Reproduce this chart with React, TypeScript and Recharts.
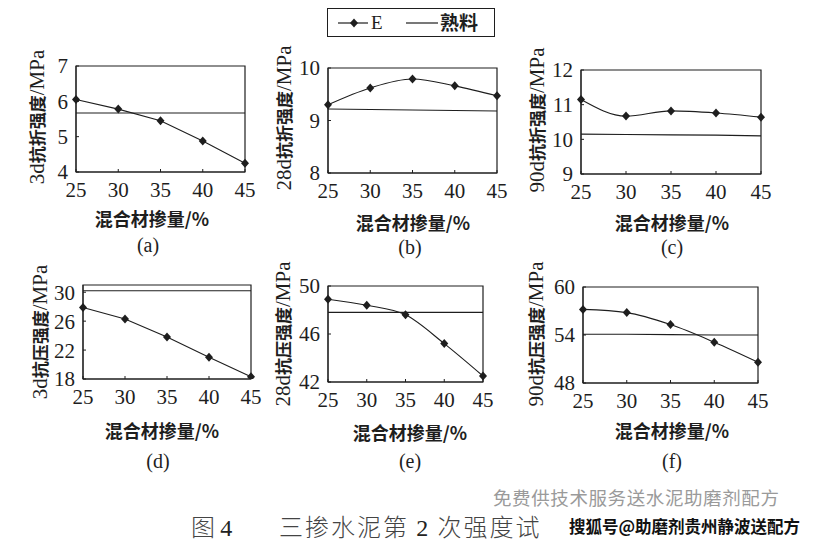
import { LineChart, Line, XAxis, YAxis, ReferenceArea } from 'recharts'

const X_VALUES = [25, 30, 35, 40, 45]

// E series and clinker baseline per panel (MPa)
const A_E = [6.05, 5.78, 5.45, 4.88, 4.25]
const A_CLINKER = [5.67, 5.67, 5.67, 5.67, 5.67]
const B_E = [9.3, 9.62, 9.79, 9.66, 9.47]
const B_CLINKER = [9.22, 9.21, 9.2, 9.19, 9.18]
const C_E = [11.15, 10.67, 10.82, 10.76, 10.64]
const C_CLINKER = [10.15, 10.14, 10.13, 10.12, 10.1]
const D_E = [27.9, 26.3, 23.8, 21.0, 18.3]
const D_CLINKER = [30.2, 30.2, 30.2, 30.2, 30.2]
const E_E = [48.9, 48.4, 47.6, 45.2, 42.5]
const E_CLINKER = [47.8, 47.8, 47.8, 47.8, 47.8]
const F_E = [57.2, 56.8, 55.3, 53.1, 50.6]
const F_CLINKER = [54.1, 54.1, 54.05, 54.0, 54.0]

const A_TICKS = [4, 5, 6, 7]
const B_TICKS = [8, 9, 10]
const C_TICKS = [9, 10, 11, 12]
const D_TICKS = [18, 22, 26, 30]
const E_TICKS = [42, 46, 50]
const F_TICKS = [48, 54, 60]

const X_TITLE = '混合材掺量/%'
const INK = '#1e1e1e'
const SERIF = "'Liberation Serif', 'Noto Sans CJK SC', serif"
const CJK = "'Noto Sans CJK SC', sans-serif"

const rows = (e: number[], c: number[]) =>
  X_VALUES.map((x, i) => ({ x, e: e[i], clinker: c[i] }))

const Diamond = (p: any) => {
  const { cx, cy } = p
  if (cx == null || cy == null) return null
  return <path key={p.key ?? `${cx}-${cy}`} d={`M${cx},${cy - 4.5}L${cx + 4},${cy}L${cx},${cy + 4.5}L${cx - 4},${cy}Z`} fill={INK} />
}

interface PanelProps {
  box: { x: number; y: number; w: number; h: number }
  domain: [number, number]
  ticks: number[]
  e: number[]
  clinker: number[]
  curve: 'linear' | 'monotone'
}

function Panel({ box, domain, ticks, e, clinker, curve }: PanelProps) {
  const padL = 60, padT = 12, padR = 12, axisH = 40
  return (
    <div style={{ position: 'absolute', left: box.x - padL, top: box.y - padT }}>
      <LineChart width={box.w + padL + padR} height={box.h + padT + axisH} data={rows(e, clinker)}
        margin={{ top: padT, right: padR, left: 0, bottom: 0 }}>
        <XAxis dataKey="x" type="number" domain={[25, 45]} ticks={X_VALUES} height={axisH}
          axisLine={{ stroke: INK }} tickLine={{ stroke: INK }} tickSize={-3} tickMargin={13}
          tick={{ fontSize: 21, fill: INK, fontFamily: SERIF }} interval={0} />
        <YAxis type="number" domain={domain} ticks={ticks} width={padL} allowDataOverflow
          axisLine={{ stroke: INK }} tickLine={{ stroke: INK }} tickSize={-3} tickMargin={11}
          tick={{ fontSize: 21, fill: INK, fontFamily: SERIF }} interval={0} />
        <ReferenceArea x1={25} x2={45} y1={domain[0]} y2={domain[1]} fill="none"
          stroke={INK} strokeWidth={1.2} ifOverflow="visible" />
        <Line dataKey="clinker" type="linear" stroke={INK} strokeWidth={1.1} dot={false}
          isAnimationActive={false} />
        <Line dataKey="e" type={curve} stroke={INK} strokeWidth={1.1} dot={<Diamond />}
          activeDot={false} isAnimationActive={false} />
      </LineChart>
    </div>
  )
}

const Txt = ({ x, y, children, size = 18, rotate = false, family = CJK, weight = 400, color = INK }: any) => (
  <div style={{
    position: 'absolute', left: x, top: y, whiteSpace: 'nowrap', fontSize: size, fontFamily: family,
    fontWeight: weight, color, lineHeight: 1,
    transform: `translate(-50%, -50%)${rotate ? ' rotate(-90deg)' : ''}`,
  }}>{children}</div>
)

// y titles split so the Latin parts can be set larger than the Chinese, as in the print
const YTitle = ({ t }: { t: [string, string, string] }) => (
  <>
    <span style={{ fontFamily: SERIF, fontSize: 21 }}>{t[0]}</span>
    <span style={{ fontFamily: CJK, fontSize: 17, fontWeight: 700 }}>{t[1]}</span>
    <span style={{ fontFamily: SERIF, fontSize: 21 }}>{t[2]}</span>
  </>
)

const PANELS = [
  { key: 'a', box: { x: 76, y: 66, w: 169, h: 106 }, domain: [4, 7], ticks: A_TICKS, e: A_E, c: A_CLINKER, curve: 'linear',
    yTitle: ['3d', '抗折强度', '/MPa'], yl: [37, 117], xl: [152, 218], sub: [148, 245] },
  { key: 'b', box: { x: 328, y: 68, w: 169, h: 105 }, domain: [8, 10], ticks: B_TICKS, e: B_E, c: B_CLINKER, curve: 'monotone',
    yTitle: ['28d', '抗折强度', '/MPa'], yl: [284, 118], xl: [413, 222], sub: [410, 247] },
  { key: 'c', box: { x: 581, y: 70, w: 180, h: 104 }, domain: [9, 12], ticks: C_TICKS, e: C_E, c: C_CLINKER, curve: 'monotone',
    yTitle: ['90d', '抗折强度', '/MPa'], yl: [537, 120], xl: [672, 222], sub: [672, 247] },
  { key: 'd', box: { x: 83, y: 285, w: 168, h: 94 }, domain: [18, 31], ticks: D_TICKS, e: D_E, c: D_CLINKER, curve: 'linear',
    yTitle: ['3d', '抗压强度', '/MPa'], yl: [40, 332], xl: [162, 430], sub: [158, 461] },
  { key: 'e', box: { x: 328, y: 286, w: 155, h: 96 }, domain: [42, 50], ticks: E_TICKS, e: E_E, c: E_CLINKER, curve: 'monotone',
    yTitle: ['28d', '抗压强度', '/MPa'], yl: [283, 334], xl: [410, 432], sub: [410, 461] },
  { key: 'f', box: { x: 583, y: 287, w: 175, h: 96 }, domain: [48, 60], ticks: F_TICKS, e: F_E, c: F_CLINKER, curve: 'monotone',
    yTitle: ['90d', '抗压强度', '/MPa'], yl: [536, 334], xl: [672, 430], sub: [672, 461] },
]

function LegendBox() {
  return (
    <div style={{ position: 'absolute', left: 327, top: 8, width: 168, height: 29, border: `1.2px solid ${INK}`, boxSizing: 'border-box' }}>
      <svg width={166} height={27} style={{ position: 'absolute', left: 0, top: 0 }}>
        <line x1={10} x2={40} y1={14} y2={14} stroke={INK} strokeWidth={1.2} />
        <path d="M26,9.5L30,14L26,18.5L22,14Z" fill={INK} />
        <text x={43} y={20} fontSize={19} fontFamily={SERIF} fill={INK}>E</text>
        <line x1={78} x2={110} y1={14} y2={14} stroke={INK} strokeWidth={1.2} />
        <text x={112} y={21} fontSize={19} fontFamily={CJK} fontWeight={700} fill={INK}>熟料</text>
      </svg>
    </div>
  )
}

export default function App() {
  return (
    <div style={{ position: 'absolute', left: 0, top: 0, width: 814, height: 542, background: '#fff', overflow: 'hidden' }}>
      <LegendBox />
      {PANELS.map(p => (
        <div key={p.key}>
          <Panel box={p.box} domain={p.domain as [number, number]} ticks={p.ticks} e={p.e} clinker={p.c}
            curve={p.curve as 'linear' | 'monotone'} />
          <Txt x={p.yl[0]} y={p.yl[1]} rotate><YTitle t={p.yTitle as [string, string, string]} /></Txt>
          <Txt x={p.xl[0]} y={p.xl[1]} size={18} weight={700}>{X_TITLE}</Txt>
          <Txt x={p.sub[0]} y={p.sub[1]} size={20} family={SERIF}>({p.key})</Txt>
        </div>
      ))}
      <div style={{ position: 'absolute', left: 191, top: 514, fontSize: 24, fontFamily: CJK, color: '#444', whiteSpace: 'nowrap', lineHeight: 1, fontWeight: 300 }}>
        图 <b style={{ fontFamily: SERIF, color: '#222' }}>4</b>
      </div>
      <div style={{ position: 'absolute', left: 279, top: 514, fontSize: 24, fontFamily: CJK, color: '#444', whiteSpace: 'nowrap', lineHeight: 1, fontWeight: 300, letterSpacing: 2 }}>
        三掺水泥第 <b style={{ fontFamily: SERIF, color: '#222' }}>2</b> 次强度试
      </div>
      <div style={{ position: 'absolute', left: 493, top: 488, fontSize: 18.5, fontFamily: CJK, color: '#9a9a9a', whiteSpace: 'nowrap', lineHeight: 1, letterSpacing: 0.6 }}>
        免费供技术服务送水泥助磨剂配方
      </div>
      <div style={{ position: 'absolute', left: 569, top: 518, fontSize: 16.5, fontFamily: CJK, fontWeight: 700, color: '#111', whiteSpace: 'nowrap', lineHeight: 1, background: '#fff' }}>
        搜狐号@助磨剂贵州静波送配方
      </div>
    </div>
  )
}
